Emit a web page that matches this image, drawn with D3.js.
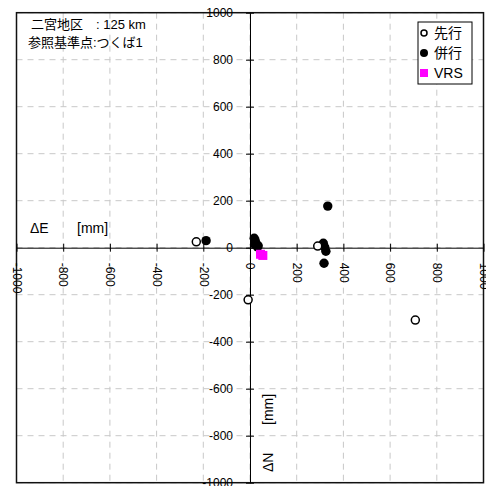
<!DOCTYPE html>
<html>
<head>
<meta charset="utf-8">
<script src="https://cdn.jsdelivr.net/npm/d3@7"></script>
<style>
  body { margin: 0; background: #fff; }
  svg text { font-family: "Liberation Sans", Arial, "Noto Sans CJK JP", sans-serif; }
</style>
</head>
<body>
<div id="chart"></div>
<script>
// data (ΔE, ΔN) in mm
var senkou = [[-230, 25], [290, 7], [-8, -222], [708, -308]]   // 先行
var heikou = [[-188, 30], [18, 40], [22, 30], [25, 20], [28, 10], [32, 3], [20, 15], [35, 8],
              [333, 177], [314, 19], [320, 2], [325, -15], [317, -66]]   // 併行
var vrs = [[45, -28], [55, -33]]
var ticks = [-1000, -800, -600, -400, -200, 0, 200, 400, 600, 800, 1000]
var legendItems = ['先行', '併行', 'VRS']

var W = 486, H = 486
var svg = d3.select('#chart').append('svg')
  .attr('width', W).attr('height', H)

var xScale = d3.scaleLinear().domain([-1000, 1000]).range([16.5, 483.5])
var yScale = d3.scaleLinear().domain([-1000, 1000]).range([482.7, 12.7])

// grid
var grid = svg.append('g')
grid.selectAll('.gx').data(ticks).enter().append('line')
  .attr('x1', function(d){ return xScale(d) }).attr('x2', function(d){ return xScale(d) })
  .attr('y1', yScale(1000)).attr('y2', yScale(-1000))
  .attr('stroke', '#c8c8c8').attr('stroke-dasharray', '6,5')
grid.selectAll('.gy').data(ticks).enter().append('line')
  .attr('y1', function(d){ return yScale(d) }).attr('y2', function(d){ return yScale(d) })
  .attr('x1', xScale(-1000)).attr('x2', xScale(1000))
  .attr('stroke', '#c8c8c8').attr('stroke-dasharray', '6,5')

// plot border
svg.append('rect')
  .attr('x', xScale(-1000)).attr('y', yScale(1000))
  .attr('width', xScale(1000) - xScale(-1000)).attr('height', yScale(-1000) - yScale(1000))
  .attr('fill', 'none').attr('stroke', '#111').attr('stroke-width', 1.5)

// x axis through y=0
var xAxis = d3.axisBottom(xScale).tickValues(ticks).tickSizeInner(4).tickSizeOuter(0)
  .tickFormat(d3.format('d'))
var gx = svg.append('g')
  .attr('transform', 'translate(0,' + yScale(0) + ')')
  .call(xAxis)
gx.select('.domain').attr('stroke', '#000')
gx.selectAll('.tick line').attr('y1', -4).attr('stroke', '#000')
gx.selectAll('.tick text')
  .attr('font-size', 12).attr('fill', '#000')
  .attr('transform', 'rotate(90)')
  .attr('x', 15).attr('y', 0).attr('dy', '0.35em')
  .style('text-anchor', 'start')
  .text(function(d){ return d < 0 ? '-' + (-d) : d })

// y axis through x=0
var yAxis = d3.axisLeft(yScale).tickValues(ticks).tickSizeInner(4).tickSizeOuter(0)
var gy = svg.append('g')
  .attr('transform', 'translate(' + xScale(0) + ',0)')
  .call(yAxis)
gy.select('.domain').attr('stroke', '#000')
gy.selectAll('.tick line').attr('x2', 4).attr('x1', -4).attr('stroke', '#000')
gy.selectAll('.tick text')
  .attr('font-size', 12).attr('fill', '#000')
  .attr('x', -17)
  .text(function(d){ return d < 0 ? '-' + (-d) : d })

// axis labels
svg.append('text').attr('x', 30).attr('y', 233).attr('font-size', 14).text('ΔE')
svg.append('text').attr('x', 77).attr('y', 233).attr('font-size', 14).text('[mm]')
svg.append('text').attr('transform', 'translate(273,472) rotate(-90)')
  .attr('font-size', 14).text('ΔN')
svg.append('text').attr('transform', 'translate(273,425) rotate(-90)')
  .attr('font-size', 14).text('[mm]')

// title
svg.append('text').attr('x', 31).attr('y', 29).attr('font-size', 13).text('二宮地区')
svg.append('text').attr('x', 96).attr('y', 29).attr('font-size', 13).text(': 125 km')
svg.append('text').attr('x', 28).attr('y', 47).attr('font-size', 13).text('参照基準点:つくば1')

// points
var pts = svg.append('g')
pts.selectAll('.heikou').data(heikou).enter().append('circle')
  .attr('cx', function(d){ return xScale(d[0]) })
  .attr('cy', function(d){ return yScale(d[1]) })
  .attr('r', 4.7).attr('fill', '#000')
pts.selectAll('.senkou').data(senkou).enter().append('circle')
  .attr('cx', function(d){ return xScale(d[0]) })
  .attr('cy', function(d){ return yScale(d[1]) })
  .attr('r', 4).attr('fill', '#fff').attr('stroke', '#000').attr('stroke-width', 1.5)
pts.selectAll('.vrs').data(vrs).enter().append('rect')
  .attr('x', function(d){ return xScale(d[0]) - 4.5 })
  .attr('y', function(d){ return yScale(d[1]) - 4.5 })
  .attr('width', 9).attr('height', 9).attr('fill', '#ff00ff')

// legend
var lg = svg.append('g').attr('transform', 'translate(418,22)')
lg.append('rect').attr('width', 54).attr('height', 62)
  .attr('fill', '#fff').attr('stroke', '#000').attr('stroke-width', 1)
legendItems.forEach(function(name, i) {
  var cy = 11 + i * 20
  if (i === 0) lg.append('circle').attr('cx', 6).attr('cy', cy).attr('r', 3)
    .attr('fill', '#fff').attr('stroke', '#000').attr('stroke-width', 1.5)
  if (i === 1) lg.append('circle').attr('cx', 6).attr('cy', cy).attr('r', 4).attr('fill', '#000')
  if (i === 2) lg.append('rect').attr('x', 2).attr('y', cy - 4).attr('width', 8).attr('height', 8)
    .attr('fill', '#ff00ff')
  lg.append('text').attr('x', 16).attr('y', cy).attr('dy', '0.36em')
    .attr('font-size', 14).text(name)
})
</script>
</body>
</html>
